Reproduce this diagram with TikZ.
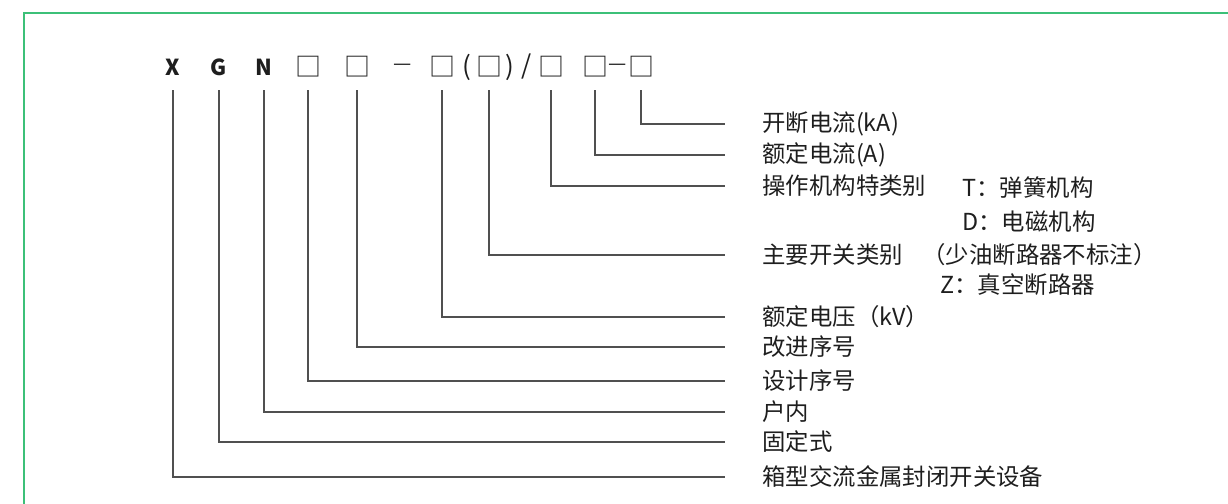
\documentclass[tikz,border=0pt]{standalone}
\usepackage{fontspec}
\setmainfont{Noto Sans CJK SC}
\usetikzlibrary{positioning}
\definecolor{framegreen}{RGB}{60,192,120}
\definecolor{linegray}{RGB}{80,80,80}
\definecolor{textgray}{RGB}{30,30,30}

\begin{document}
\begin{tikzpicture}[
    x=0.5pt, y=-0.5pt,
    code/.style={minimum height=23pt, inner sep=0pt, text=textgray,
                 font=\fontsize{11}{12}\selectfont\bfseries},
    sym/.style={code, font=\fontsize{13}{14}\selectfont},
    hyph/.style={code, font=\fontsize{10.2}{11}\selectfont},
    desc/.style={anchor=west, inner xsep=18.5pt, inner ysep=0pt, text=textgray,
                 font=\fontsize{11.7}{14}\selectfont},
    note/.style={anchor=west, inner sep=0pt, text=textgray,
                 font=\fontsize{11.7}{14}\selectfont},
    lead/.style={draw=linegray, line width=0.6pt}
]
    \useasboundingbox (0,0) rectangle (1228,504);
    % frame
    \draw[framegreen, line width=1pt] (24,504) -- (24,12.5) -- (1228,12.5);

    % model code
    \node[code] (cls)   at (173,67) {X};
    \node[code] (fixed) at (219,67) {G};
    \node[code] (indoor) at (264,67) {N};
    \node[sym] (design) at (308,67) {□};
    \node[sym] (improve) at (357,67) {□};
    \node[hyph] (dash_a) at (403,67) {—};
    \node[sym] (volt) at (442,67) {□};
    \node[sym] (lpar) at (467,67) {(};
    \node[sym] (switch) at (489,67) {□};
    \node[sym] (rpar) at (510,67) {)};
    \node[sym] (slash) at (527,67) {/};
    \node[sym] (mech) at (551,67) {□};
    \node[sym] (rated) at (595,67) {□};
    \node[hyph] (dash_b) at (618,67) {—};
    \node[sym] (brk) at (641,67) {□};

    % meanings
    \node[desc] (brk_l)     at (725,124) {开断电流(kA)};
    \node[desc] (rated_l)   at (725,155) {额定电流(A)};
    \node[desc] (mech_l)    at (725,186) {操作机构特类别};
    \node[note] (mech_t)    at (962,188) {T：弹簧机构};
    \node[note] (mech_d)    at (962,222) {D：电磁机构};
    \node[desc] (switch_l)  at (725,255) {主要开关类别};
    \node[note] (switch_o)  at (922,255) {（少油断路器不标注）};
    \node[note] (switch_z)  at (940,285) {Z：真空断路器};
    \node[desc] (volt_l)    at (725,317) {额定电压（kV）};
    \node[desc] (improve_l) at (725,347) {改进序号};
    \node[desc] (design_l)  at (725,381) {设计序号};
    \node[desc] (indoor_l)  at (725,412) {户内};
    \node[desc] (fixed_l)   at (725,442) {固定式};
    \node[desc] (cls_l)     at (725,477) {箱型交流金属封闭开关设备};

    \draw[lead] (brk.south) |- (brk_l.west);
    \draw[lead] (rated.south) |- (rated_l.west);
    \draw[lead] (mech.south) |- (mech_l.west);
    \draw[lead] (switch.south) |- (switch_l.west);
    \draw[lead] (volt.south) |- (volt_l.west);
    \draw[lead] (improve.south) |- (improve_l.west);
    \draw[lead] (design.south) |- (design_l.west);
    \draw[lead] (indoor.south) |- (indoor_l.west);
    \draw[lead] (fixed.south) |- (fixed_l.west);
    \draw[lead] (cls.south) |- (cls_l.west);
\end{tikzpicture}
\end{document}
